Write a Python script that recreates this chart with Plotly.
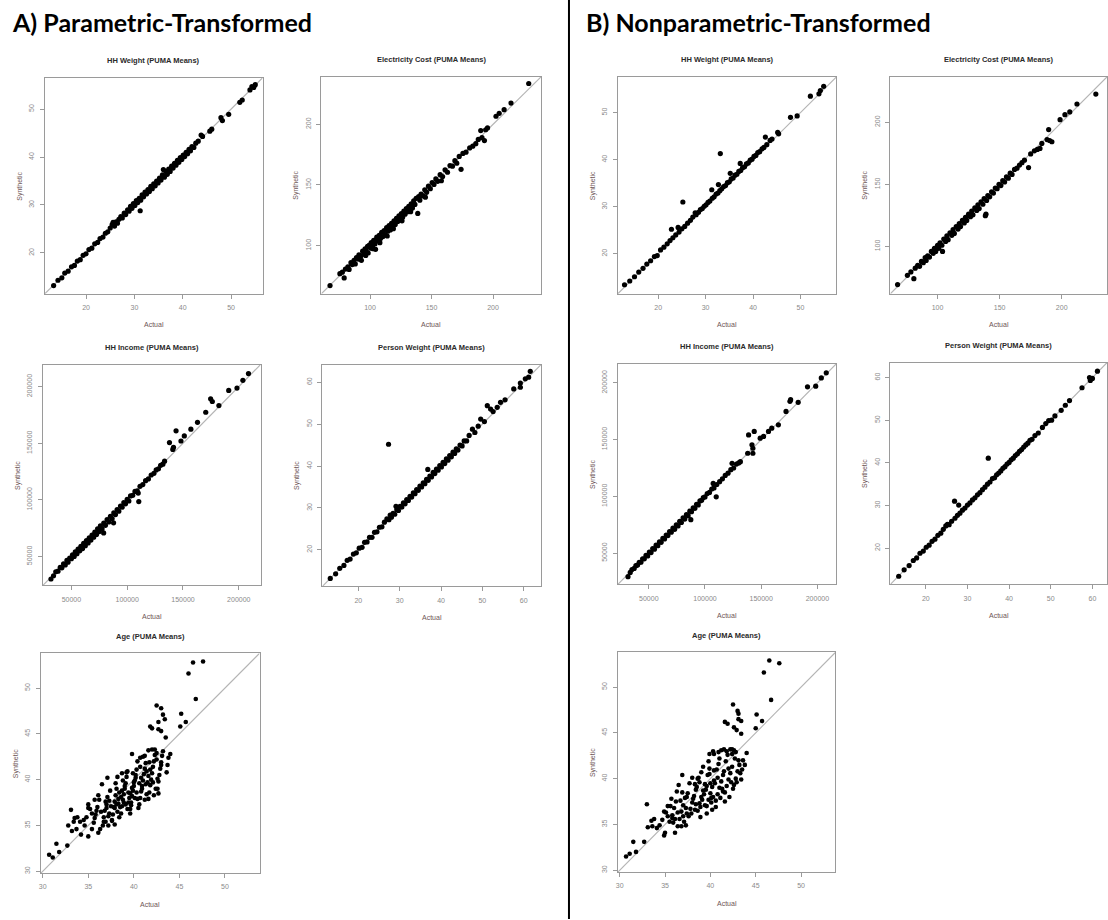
import plotly.graph_objects as go

# ---------------- DATA ----------------
panel_titles = ["HH Weight (PUMA Means)", "Electricity Cost (PUMA Means)", "HH Income (PUMA Means)",
                "Person Weight (PUMA Means)", "Age (PUMA Means)"]
group_titles = ["A) Parametric-Transformed", "B) Nonparametric-Transformed"]
x_label = "Actual"
y_label = "Synthetic"

ticks_weight = [20, 30, 40, 50]
ticks_elec = [100, 150, 200]
ticks_income = [50000, 100000, 150000, 200000]
ticks_income_text = ["50000", "100000", "150000", "200000"]
ticks_pweight = [20, 30, 40, 50, 60]
ticks_age = [30, 35, 40, 45, 50]

# A1 HH Weight (parametric)
a1_actual = [
    13.3, 14.2, 15.0, 15.6, 16.3, 17.0, 17.6, 18.2, 18.8, 19.4,
    20.0, 20.6, 21.2, 21.8, 22.4, 22.9, 23.5, 24.0, 24.5, 25.0,
    25.4, 25.6, 25.9, 26.2, 26.5, 26.8, 27.2, 27.5, 27.9, 28.2,
    28.6, 28.9, 29.2, 29.5, 29.8, 30.1, 30.4, 30.7, 31.0, 31.2,
    31.3, 31.6, 31.9, 32.2, 32.5, 32.8, 33.1, 33.4, 33.7, 34.0,
    34.3, 34.6, 34.9, 35.2, 35.5, 35.8, 36.0, 36.2, 36.5, 36.8,
    37.1, 37.4, 37.7, 38.0, 38.3, 38.6, 38.9, 39.2, 39.5, 39.8,
    40.1, 40.4, 40.7, 41.0, 41.3, 41.6, 41.9, 42.3, 42.7, 43.2,
    43.8, 44.1, 45.6, 46.0, 47.9, 48.2, 49.5, 51.8, 52.3, 53.9,
    54.3, 54.7, 55.0]
a1_synth = [
    13.2, 14.3, 14.8, 15.8, 16.2, 17.1, 17.4, 18.3, 18.6, 19.5,
    19.8, 20.7, 21.0, 21.9, 22.2, 23.0, 23.3, 24.1, 24.4, 25.2,
    25.9, 26.4, 25.6, 26.5, 26.2, 27.0, 27.6, 27.3, 28.3, 28.0,
    29.0, 28.7, 29.7, 29.3, 30.3, 29.9, 30.9, 30.5, 31.4, 28.8,
    31.0, 32.1, 31.7, 32.7, 32.3, 33.2, 32.8, 33.9, 33.4, 34.4,
    34.0, 35.0, 34.6, 35.6, 35.2, 36.3, 37.4, 35.8, 37.0, 36.4,
    37.5, 37.0, 38.1, 37.7, 38.7, 38.3, 39.3, 38.9, 39.9, 39.5,
    40.4, 40.1, 41.0, 40.7, 41.6, 41.3, 42.2, 42.0, 42.9, 43.3,
    44.6, 44.3, 45.4, 45.8, 48.2, 47.6, 48.9, 51.4, 51.9, 54.0,
    54.7, 54.5, 55.1]

# A2 Electricity Cost (parametric)
a2_actual = [
    67.5, 75.5, 77.5, 79.0, 80.0, 82.0, 83.0, 84.5, 85.5, 87.0,
    88.0, 89.0, 90.5, 91.0, 92.5, 93.0, 94.0, 95.0, 96.0, 97.0,
    98.0, 98.5, 99.5, 100.5, 101.0, 102.0, 103.0, 104.0, 104.5, 105.5,
    106.5, 107.5, 108.5, 109.5, 110.5, 111.5, 112.5, 113.5, 114.5, 115.5,
    116.5, 117.5, 118.5, 119.5, 120.5, 121.5, 122.5, 123.5, 124.5, 125.5,
    126.5, 127.5, 128.5, 129.5, 130.5, 131.5, 132.5, 133.5, 134.5, 135.5,
    136.5, 137.5, 138.8, 139.5, 140.5, 141.5, 143.0, 144.5, 146.0, 147.5,
    149.0, 150.5, 152.0, 153.5, 155.0, 157.0, 159.0, 161.0, 163.0, 165.0,
    167.0, 169.0, 170.5, 172.5, 174.0, 175.5, 178.0, 181.0, 183.5, 186.0,
    188.0, 190.0, 191.0, 193.0, 194.0, 195.5, 202.4, 205.0, 209.0, 214.6,
    229.0, 96.5, 102.5, 108.0, 114.0, 119.0, 126.0, 133.0, 145.0, 158.0]
a2_synth = [
    67.2, 77.0, 78.2, 73.5, 80.8, 82.5, 80.5, 86.0, 84.5, 88.0,
    85.0, 90.2, 89.0, 92.5, 91.5, 88.0, 95.5, 93.0, 97.5, 95.5,
    99.5, 94.0, 100.5, 98.0, 102.5, 100.0, 104.5, 101.5, 97.0, 107.0,
    104.0, 108.5, 106.0, 111.0, 107.5, 112.5, 109.0, 115.0, 112.0, 116.5,
    113.0, 118.5, 116.0, 120.5, 117.5, 122.5, 120.0, 124.5, 121.5, 126.5,
    123.5, 128.5, 126.0, 130.5, 128.0, 132.5, 129.5, 134.5, 131.0, 137.0,
    134.0, 139.0, 126.6, 140.5, 137.5, 142.5, 141.0, 146.0, 144.0, 149.0,
    147.0, 152.0, 150.5, 155.0, 153.0, 158.5, 157.0, 162.5, 160.5, 166.0,
    165.5, 170.0, 168.0, 173.5, 162.9, 176.0, 177.0, 180.5, 182.0, 184.0,
    187.5, 194.8, 189.0, 186.6, 195.5, 197.0, 206.6, 209.0, 212.0, 217.5,
    233.6, 92.0, 97.5, 102.5, 108.0, 114.0, 120.5, 128.0, 140.0, 153.5]

# A3 HH Income (parametric)
a3_actual = [
    31700, 34000, 36000, 38000, 40000, 41500, 43000, 44500, 46000, 47000,
    48500, 50000, 51000, 52500, 53500, 55000, 56000, 57500, 58500, 60000,
    61000, 62500, 63500, 65000, 66000, 67500, 68500, 70000, 71000, 72500,
    73500, 75000, 76000, 77500, 78900, 79000, 80500, 82000, 83500, 85000,
    86500, 87800, 88000, 89500, 91000, 92500, 94000, 95500, 97000, 98500,
    100000, 101500, 103000, 105000, 107000, 109000, 109900, 110400, 111500, 114000,
    116500, 119000, 121500, 124000, 126000, 128000, 130000, 132000, 133500, 137900,
    140900, 141500, 143800, 148200, 151200, 157100, 163000, 170400, 174800, 176300,
    182200, 191000, 198400, 203700, 208700]
a3_synth = [
    30100, 33000, 36500, 37000, 40500, 40000, 43500, 42500, 46500, 45000,
    48500, 48000, 51500, 50000, 54000, 52500, 56500, 55000, 59000, 57000,
    61500, 59500, 64000, 62000, 66500, 64500, 69000, 67000, 71500, 69500,
    74500, 72000, 77000, 74500, 70800, 79500, 77500, 82500, 80500, 85500,
    83500, 79700, 88500, 87000, 91500, 90000, 94500, 93500, 97500, 96500,
    100500, 99000, 103500, 104000, 107500, 108000, 106000, 98500, 112000, 113500,
    117000, 118500, 122000, 123500, 126500, 127500, 130500, 131500, 134200, 150600,
    144600, 146500, 161000, 152000, 156500, 162500, 168500, 177400, 189300, 186900,
    183300, 196700, 198800, 205600, 211600]

# A4 Person Weight (parametric)
a4_actual = [
    13.2, 14.5, 15.5, 16.5, 17.3, 18.0, 18.8, 19.5, 20.2, 20.9,
    21.5, 22.1, 22.7, 23.3, 23.9, 24.5, 25.1, 25.7, 26.3, 26.9,
    27.3, 27.4, 27.7, 28.0, 28.4, 28.8, 29.1, 29.3, 29.7, 30.1,
    30.5, 30.9, 31.3, 31.7, 32.1, 32.5, 32.9, 33.3, 33.7, 34.1,
    34.5, 34.9, 35.3, 35.7, 36.1, 36.5, 36.8, 36.9, 37.3, 37.7,
    38.1, 38.5, 38.9, 39.3, 39.7, 40.1, 40.5, 40.9, 41.3, 41.7,
    42.1, 42.5, 42.9, 43.3, 43.7, 44.1, 44.6, 45.1, 45.6, 46.2,
    46.8, 47.6, 48.2, 49.0, 49.6, 50.5, 51.2, 52.0, 52.6, 53.6,
    54.4, 55.5, 57.6, 59.2, 59.2, 60.4, 61.2, 61.6]
a4_synth = [
    13.2, 14.3, 15.6, 16.3, 17.5, 17.8, 19.0, 19.3, 20.4, 20.6,
    21.8, 21.9, 23.0, 23.0, 24.2, 24.3, 25.4, 25.5, 26.6, 27.4,
    45.2, 27.2, 28.3, 27.8, 28.7, 28.5, 30.4, 29.6, 29.4, 30.4,
    30.2, 31.2, 31.0, 32.0, 31.8, 32.8, 32.6, 33.6, 33.4, 34.4,
    34.2, 35.2, 35.0, 36.0, 35.8, 36.8, 39.2, 36.6, 37.6, 37.4,
    38.5, 38.2, 39.3, 39.0, 40.1, 39.8, 40.9, 40.6, 41.7, 41.4,
    42.5, 42.2, 43.3, 43.0, 44.1, 43.8, 45.0, 44.8, 46.0, 46.0,
    47.3, 48.8, 48.0, 49.5, 51.2, 50.6, 54.4, 53.6, 53.0, 54.0,
    55.2, 55.8, 58.4, 58.8, 59.8, 60.8, 61.2, 62.6]

# A5 Age (parametric)
a5_actual = [
    47.6, 46.5, 46.0, 46.8, 42.5, 43.0, 43.2, 45.2, 43.4, 42.7,
    45.1, 45.7, 41.8, 42.0, 42.7, 43.0, 43.5, 44.0, 39.8, 41.6,
    42.3, 42.5, 40.7, 41.2, 38.7, 39.2, 37.1, 36.5, 33.1, 35.7,
    35.0, 33.5, 33.8, 32.8, 33.2, 33.4, 33.7, 35.0, 36.1, 31.5,
    31.8, 32.7, 30.7, 31.1, 34.1, 34.5, 35.4, 35.9, 36.7, 37.2,
    37.6, 37.9,
    35.6, 35.8, 36.0, 36.2, 36.4, 35.7, 36.3, 36.1,
    36.6, 36.7, 36.8, 37.0, 37.1, 37.2, 37.3, 37.4, 36.9, 37.0,
    37.6, 37.7, 37.8, 37.9, 38.0, 38.1, 38.2, 38.3, 38.4, 38.0, 37.9, 38.2, 38.4,
    38.6, 38.7, 38.8, 38.9, 39.0, 39.1, 39.2, 39.3, 39.4, 38.6, 38.7, 39.0, 39.3, 39.1, 39.4,
    39.6, 39.7, 39.8, 39.9, 40.0, 40.1, 40.2, 40.3, 40.4, 39.6, 39.8, 40.0, 40.2, 40.4, 39.7, 40.1,
    40.6, 40.7, 40.8, 40.9, 41.0, 41.1, 41.2, 41.3, 41.4, 40.6, 40.8, 41.0, 41.2, 41.4,
    41.6, 41.7, 41.8, 41.9, 42.0, 42.1, 42.2, 42.3, 42.4, 41.6, 41.8, 42.0, 42.2,
    42.6, 42.7, 42.8, 42.9, 43.0, 43.1, 43.2, 42.6, 43.0, 42.7,
    43.6, 43.7, 43.8,
    34.2, 34.6, 34.8, 35.2, 35.4, 35.0,
    38.3, 38.9, 39.5, 40.3, 40.9, 41.5, 37.5, 38.8, 39.9, 40.7,
    41.7, 42.5, 37.3, 38.5, 39.6, 40.5, 41.3, 42.1, 36.9, 38.1]
a5_synth = [
    52.9, 52.8, 51.6, 48.8, 48.1, 47.8, 47.1, 47.2, 46.6, 46.3,
    45.8, 46.3, 45.8, 45.6, 45.5, 45.3, 44.6, 42.8, 42.8, 43.2,
    43.3, 42.9, 42.4, 42.6, 40.7, 40.8, 40.2, 39.5, 36.7, 37.8,
    36.9, 35.8, 35.9, 35.0, 34.4, 35.4, 34.6, 33.8, 34.2, 33.0,
    32.1, 32.8, 31.8, 31.5, 35.4, 35.6, 36.3, 36.6, 35.4, 35.0,
    35.6, 35.1,
    35.3, 36.2, 37.0, 37.8, 36.5, 35.8, 34.6, 38.3,
    35.0, 35.9, 36.6, 37.3, 38.1, 36.0, 37.7, 38.8, 35.4, 36.9,
    35.5, 36.2, 37.0, 37.6, 38.3, 39.0, 36.5, 37.9, 38.6, 39.6, 36.9, 40.3, 35.9,
    36.3, 37.1, 37.8, 38.4, 39.0, 39.6, 40.3, 36.8, 37.5, 38.1, 38.8, 39.3, 40.9, 37.3, 38.6,
    36.8, 37.5, 38.2, 38.8, 39.3, 39.9, 40.5, 41.1, 37.9, 38.5, 39.1, 39.7, 40.2, 42.0, 37.2, 38.0,
    37.3, 38.0, 38.7, 39.3, 39.9, 40.6, 41.2, 41.8, 38.4, 39.6, 40.2, 42.5, 37.8, 40.9,
    37.9, 38.6, 39.4, 40.0, 40.7, 41.4, 42.0, 42.7, 39.0, 40.4, 41.1, 43.3, 38.3,
    39.0, 39.8, 40.5, 41.2, 41.9, 42.6, 43.1, 40.1, 41.6, 38.5,
    40.8, 41.6, 42.4,
    34.0, 35.0, 35.9, 36.8, 34.6, 37.3,
    37.4, 37.5, 38.0, 38.6, 39.0, 39.7, 37.1, 39.9, 40.7, 41.4,
    41.9, 42.2, 36.3, 37.0, 36.3, 36.9, 39.5, 39.7, 37.6, 37.3]

# B1 HH Weight (nonparametric)
b1_actual = [
    12.9, 14.0, 15.0, 15.9, 16.8, 17.6, 18.4, 19.2, 19.8, 20.5,
    21.2, 21.9, 22.5, 22.8, 23.1, 23.7, 24.2, 24.4, 25.0, 25.2,
    25.6, 26.2, 26.8, 27.3, 27.8, 28.0, 28.5, 28.9, 29.3, 29.7,
    30.1, 30.5, 30.9, 31.3, 31.4, 31.8, 32.2, 32.6, 32.7, 33.0,
    33.1, 33.4, 33.8, 34.2, 34.6, 35.0, 35.2, 35.4, 35.8, 36.2,
    36.6, 37.0, 37.3, 37.4, 37.8, 38.2, 38.6, 39.0, 39.4, 39.8,
    40.2, 40.6, 41.0, 41.4, 41.9, 42.3, 42.6, 42.9, 43.6, 44.0,
    45.2, 45.4, 47.9, 49.3, 52.1, 53.9, 54.2, 54.9]
b1_synth = [
    13.4, 14.2, 15.1, 16.1, 16.9, 17.8, 18.5, 19.4, 19.6, 20.8,
    21.4, 22.1, 22.8, 25.2, 23.4, 24.0, 25.6, 24.6, 25.3, 31.0,
    25.8, 26.5, 27.1, 27.8, 28.7, 28.3, 28.8, 29.4, 29.6, 30.1,
    30.4, 30.9, 31.2, 33.6, 31.8, 32.1, 32.7, 32.9, 34.7, 33.4,
    41.3, 33.8, 34.3, 34.5, 35.1, 35.3, 37.1, 35.9, 36.1, 36.7,
    36.9, 37.5, 39.2, 37.7, 38.3, 38.5, 39.1, 39.3, 39.9, 40.1,
    40.7, 40.9, 41.5, 41.7, 42.3, 42.6, 44.8, 43.2, 44.1, 44.4,
    45.8, 45.5, 49.0, 49.3, 53.5, 54.0, 54.7, 55.6]

# B2 Electricity Cost (nonparametric)
b2_actual = [
    67.8, 75.7, 78.5, 80.9, 82.0, 84.0, 85.5, 87.0, 88.5, 90.0,
    90.8, 92.0, 93.5, 95.0, 96.5, 97.5, 98.5, 100.0, 101.0, 102.0,
    103.5, 104.0, 105.0, 106.5, 107.5, 108.5, 110.0, 111.5, 112.5, 113.5,
    115.0, 116.5, 117.5, 118.5, 120.0, 121.5, 122.5, 123.5, 125.0, 126.5,
    127.5, 128.5, 130.0, 131.5, 132.5, 133.5, 135.0, 136.5, 137.5, 138.5,
    139.0, 139.5, 140.5, 142.0, 143.5, 145.0, 146.5, 148.0, 149.5, 151.0,
    152.5, 154.0, 155.5, 157.0, 158.5, 160.0, 162.0, 164.0, 166.0, 168.0,
    170.0, 173.3, 175.0, 178.0, 180.4, 182.5, 184.0, 188.2, 189.5, 190.3,
    192.1, 198.7, 202.6, 206.5, 212.3, 227.5]
b2_synth = [
    69.3, 76.8, 79.5, 74.1, 82.5, 84.8, 84.0, 88.0, 87.0, 91.0,
    88.8, 92.5, 91.5, 96.0, 94.5, 98.5, 96.0, 101.0, 98.5, 103.0,
    101.0, 96.0, 106.0, 104.0, 108.5, 105.5, 111.0, 109.0, 113.5, 110.5,
    116.0, 114.0, 118.5, 116.0, 121.0, 119.0, 123.5, 121.0, 126.0, 124.0,
    128.5, 125.5, 131.0, 129.0, 133.5, 130.5, 136.0, 134.0, 138.5, 124.8,
    126.0, 137.0, 141.0, 140.0, 144.0, 143.0, 147.0, 146.5, 150.0, 149.0,
    153.0, 152.0, 156.0, 155.0, 159.0, 158.0, 162.0, 163.0, 165.5, 167.5,
    169.5, 163.5, 174.5, 177.0, 178.1, 178.9, 183.0, 186.1, 194.1, 185.3,
    184.3, 202.1, 206.1, 208.3, 214.7, 222.7]

# B3 HH Income (nonparametric)
b3_actual = [
    31500, 33500, 35000, 37000, 38500, 40000, 41500, 43000, 44500, 46000,
    47500, 49000, 50500, 52000, 53500, 55000, 56500, 58000, 59500, 61000,
    62500, 64000, 65500, 67000, 68500, 70000, 71500, 73000, 74500, 76000,
    77500, 79000, 80500, 82000, 83500, 85000, 86500, 87400, 88000, 89500,
    91000, 92500, 94000, 95500, 97000, 98500, 100000, 102000, 104000, 106000,
    107300, 108000, 110000, 110500, 113000, 115500, 118000, 120500, 123000, 124100,
    125500, 128000, 130000, 131500, 138000, 138800, 141800, 142600, 142600, 143800,
    149100, 152100, 156500, 159400, 165300, 172100, 175600, 176200, 182900, 191200,
    198500, 203500, 207900]
b3_synth = [
    29300, 33000, 35500, 36500, 39000, 39500, 42000, 42000, 45000, 45000,
    48000, 47500, 51000, 50500, 54000, 53500, 57000, 56500, 60000, 59500,
    63000, 62500, 66000, 65500, 69000, 68500, 72000, 71000, 75000, 74000,
    78000, 77000, 81000, 80000, 84000, 83000, 87000, 79500, 86500, 90000,
    89500, 93000, 92500, 96000, 96500, 99000, 99500, 102500, 103500, 106500,
    111400, 107500, 99600, 110500, 113000, 115500, 118500, 120500, 123500, 129100,
    125000, 128500, 129500, 130600, 138000, 154200, 145400, 142400, 138000, 157200,
    151300, 152800, 157200, 160100, 163100, 174900, 183800, 185200, 182900, 196500,
    197100, 204400, 208900]

# B4 Person Weight (nonparametric)
b4_actual = [
    13.5, 14.8, 16.0, 17.0, 17.8, 18.6, 19.4, 20.1, 20.8, 21.5,
    22.2, 22.9, 23.6, 24.2, 24.8, 25.2, 25.6, 26.2, 26.9, 27.0,
    27.6, 27.9, 28.2, 28.8, 29.4, 30.0, 30.6, 31.2, 31.8, 32.4,
    33.0, 33.6, 34.2, 34.8, 35.0, 35.4, 36.0, 36.5, 37.0, 37.5,
    38.0, 38.5, 39.0, 39.5, 40.0, 40.5, 41.0, 41.5, 42.0, 42.5,
    43.0, 43.5, 44.0, 44.5, 45.0, 45.5, 46.2, 47.0, 48.0, 48.8,
    49.5, 50.2, 51.0, 52.5, 53.5, 54.5, 57.5, 59.3, 59.5, 60.0,
    61.2]
b4_synth = [
    13.4, 14.9, 15.9, 17.1, 17.7, 18.8, 19.3, 20.2, 20.7, 21.6,
    22.1, 23.0, 23.5, 24.4, 25.2, 25.6, 25.5, 26.3, 31.0, 27.0,
    27.7, 30.1, 28.2, 28.9, 29.4, 30.1, 30.6, 31.3, 31.8, 32.5,
    33.0, 33.7, 34.3, 35.0, 41.1, 35.5, 36.3, 36.5, 37.2, 37.6,
    38.1, 38.7, 39.1, 39.7, 40.1, 40.7, 41.1, 41.7, 42.1, 42.7,
    43.1, 43.7, 44.2, 44.6, 45.3, 45.5, 46.4, 47.0, 48.3, 49.2,
    49.9, 50.0, 51.0, 52.3, 53.5, 54.6, 57.6, 60.0, 59.3, 59.8,
    61.5]

# B5 Age (nonparametric)
b5_actual = [
    46.5, 47.6, 45.9, 46.7, 42.5, 43.0, 43.1, 43.1, 43.4, 45.1,
    45.7, 45.0, 41.6, 41.9, 42.6, 42.9, 43.4, 44.0, 39.9, 40.4,
    41.5, 42.2, 42.6, 36.9, 33.0, 35.7, 33.5, 33.8, 33.1, 33.6,
    34.1, 35.0, 36.1, 32.7, 31.5, 31.8, 30.7, 31.1, 34.9, 35.3,
    35.8, 36.4, 36.8, 37.3,
    35.8, 36.0, 36.2, 36.4, 35.9, 36.3, 36.1, 35.6,
    36.6, 36.8, 37.0, 37.2, 37.4, 36.7, 36.9, 37.1, 37.3, 36.5,
    37.6, 37.8, 38.0, 38.2, 38.4, 37.7, 37.9, 38.1, 38.3, 37.5, 38.0, 38.4,
    38.6, 38.8, 39.0, 39.2, 39.4, 38.7, 38.9, 39.1, 39.3, 38.5, 39.0, 39.4, 38.8, 39.2,
    39.6, 39.8, 40.0, 40.2, 40.4, 39.7, 39.9, 40.1, 40.3, 39.5, 40.0, 40.4, 39.8, 40.2, 39.6, 40.1,
    40.6, 40.8, 41.0, 41.2, 41.4, 40.7, 40.9, 41.1, 41.3, 40.5, 41.0, 41.4, 40.8,
    41.6, 41.8, 42.0, 42.2, 42.4, 41.7, 41.9, 42.1, 42.3, 41.5, 42.0, 42.4,
    42.6, 42.8, 43.0, 43.2, 42.7, 42.9, 43.1, 43.3, 42.5,
    43.5, 43.6, 43.8, 43.4,
    34.4, 34.7, 35.1, 35.3, 34.9, 35.5,
    38.3, 39.6, 40.6, 41.6, 42.8, 37.4, 38.6, 39.9, 40.9, 41.8, 37.0, 38.9, 40.3, 41.2, 42.4]
b5_synth = [
    52.9, 52.6, 51.6, 48.6, 48.1, 47.4, 47.1, 46.5, 46.3, 47.0,
    46.3, 45.5, 46.2, 46.0, 45.6, 45.3, 44.9, 42.8, 42.7, 42.7,
    43.2, 43.2, 43.1, 40.4, 37.2, 37.8, 35.4, 35.6, 34.7, 34.8,
    34.6, 34.1, 34.1, 33.1, 33.1, 32.0, 31.5, 31.8, 36.4, 35.9,
    35.7, 34.8, 34.8, 34.9,
    36.0, 36.8, 37.5, 36.3, 35.2, 38.6, 35.6, 37.0,
    35.6, 36.4, 37.1, 37.9, 36.2, 37.6, 38.5, 35.3, 36.8, 39.3,
    35.9, 36.7, 37.4, 38.1, 38.8, 39.5, 36.2, 37.8, 36.6, 38.4, 40.1, 37.2,
    36.5, 37.3, 38.0, 38.7, 39.4, 40.1, 36.9, 37.7, 38.3, 39.1, 40.7, 37.1, 39.6, 41.3,
    37.0, 37.7, 38.4, 39.1, 39.8, 40.4, 41.1, 37.4, 38.0, 38.8, 39.5, 40.9, 41.9, 36.6, 39.2, 37.9,
    37.6, 38.3, 39.0, 39.7, 40.4, 41.0, 41.6, 37.9, 38.9, 39.5, 42.2, 38.6, 40.1,
    38.5, 39.2, 39.9, 40.6, 41.3, 41.9, 42.6, 38.0, 39.6, 40.8, 41.1, 42.7,
    39.3, 40.0, 40.8, 41.5, 42.2, 39.6, 42.0, 40.6, 38.9,
    41.0, 42.0, 41.5, 39.9,
    34.9, 35.5, 36.3, 37.0, 33.8, 35.3,
    39.4, 36.2, 36.9, 37.5, 42.9, 38.0, 40.0, 40.5, 42.9, 43.0, 35.9, 35.8, 43.0, 43.1, 43.2]

# ---------------- LAYOUT ----------------
W, H = 1108, 920
FONT = "Liberation Sans"

panels = [
    # (title idx, x, y, range, tickvals, ticktext, box px: left, right, top, bottom, marker size)
    (0, a1_actual, a1_synth, [11.5, 56.5], ticks_weight, None, (43, 261, 78, 294), 5.2),
    (1, a2_actual, a2_synth, [60.5, 239.0], ticks_elec, None, (320, 540, 77, 294), 5.2),
    (2, a3_actual, a3_synth, [24500, 219500], ticks_income, ticks_income_text, (41, 259, 365, 586), 5.2),
    (3, a4_actual, a4_synth, [11.3, 64.2], ticks_pweight, None, (321, 540, 365, 587), 5.2),
    (4, a5_actual, a5_synth, [29.8, 53.8], ticks_age, None, (39, 258, 654, 874), 4.6),
    (0, b1_actual, b1_synth, [11.5, 57.6], ticks_weight, None, (617, 836, 77, 294), 5.2),
    (1, b2_actual, b2_synth, [62.0, 236.5], ticks_elec, None, (890, 1107, 77, 294), 5.2),
    (2, b3_actual, b3_synth, [22500, 217000], ticks_income, ticks_income_text, (617, 836, 364, 585), 5.2),
    (3, b4_actual, b4_synth, [11.5, 63.5], ticks_pweight, None, (890, 1107, 363, 585), 5.2),
    (4, b5_actual, b5_synth, [29.8, 53.8], ticks_age, None, (617, 835, 653, 873), 4.6),
]

fig = go.Figure()
shapes = []
annotations = []
layout_axes = {}

for i, (ti, xs, ys, rng, tv, tt, box, msize) in enumerate(panels, start=1):
    l, r, t, b = box
    xname = "x" if i == 1 else f"x{i}"
    yname = "y" if i == 1 else f"y{i}"
    fig.add_trace(go.Scatter(
        x=xs, y=ys, mode="markers", xaxis=xname, yaxis=yname,
        marker=dict(size=msize, color="black", line=dict(width=0)),
        showlegend=False, hoverinfo="skip"))
    common = dict(
        range=rng, showgrid=False, zeroline=False, showline=True, mirror=True,
        linecolor="#9a9a9a", linewidth=1, ticks="outside", ticklen=4, tickwidth=1,
        tickcolor="#9a9a9a", tickvals=tv, ticktext=tt if tt else [str(v) for v in tv],
        tickfont=dict(family=FONT, size=7, color="#8a8a8a"), fixedrange=True,
        ticklabelstandoff=3)
    layout_axes["xaxis" if i == 1 else f"xaxis{i}"] = dict(
        common, domain=[l / W, r / W], anchor=yname)
    layout_axes["yaxis" if i == 1 else f"yaxis{i}"] = dict(
        common, domain=[1 - b / H, 1 - t / H], anchor=xname, tickangle=-90)
    # diagonal reference line y = x
    shapes.append(dict(type="line", xref=xname, yref=yname,
                       x0=rng[0], y0=rng[0], x1=rng[1], y1=rng[1],
                       line=dict(color="#b4b4b4", width=1.2), layer="below"))
    cx = (l + r) / 2
    cy = (t + b) / 2
    annotations.append(dict(text=f"<b>{panel_titles[ti]}</b>", xref="paper", yref="paper",
                            x=cx / W, y=1 - (t - 17) / H, showarrow=False,
                            xanchor="center", yanchor="middle",
                            font=dict(family=FONT, size=7.5, color="#2a2a2a")))
    annotations.append(dict(text=x_label, xref="paper", yref="paper",
                            x=cx / W, y=1 - (b + 31) / H, showarrow=False,
                            xanchor="center", yanchor="middle",
                            font=dict(family=FONT, size=7, color="#6e5555")))
    annotations.append(dict(text=y_label, xref="paper", yref="paper",
                            x=(l - 25) / W, y=1 - cy / H, showarrow=False, textangle=-90,
                            xanchor="center", yanchor="middle",
                            font=dict(family=FONT, size=7, color="#6e5555")))

# group headers
annotations.append(dict(text=f"<b>{group_titles[0]}</b>", xref="paper", yref="paper",
                        x=8 / W, y=1 - 22 / H, showarrow=False, xanchor="left", yanchor="middle",
                        font=dict(family="Lato", size=25, color="black")))
annotations.append(dict(text=f"<b>{group_titles[1]}</b>", xref="paper", yref="paper",
                        x=583 / W, y=1 - 22 / H, showarrow=False, xanchor="left", yanchor="middle",
                        font=dict(family="Lato", size=25, color="black")))

# separator between the two groups
shapes.append(dict(type="line", xref="paper", yref="paper", x0=568 / W, x1=568 / W, y0=0, y1=1,
                   line=dict(color="black", width=2)))

fig.update_layout(
    width=W, height=H, margin=dict(l=0, r=0, t=0, b=0),
    paper_bgcolor="white", plot_bgcolor="white",
    shapes=shapes, annotations=annotations, showlegend=False,
    **layout_axes)

fig.write_html("out.html")
